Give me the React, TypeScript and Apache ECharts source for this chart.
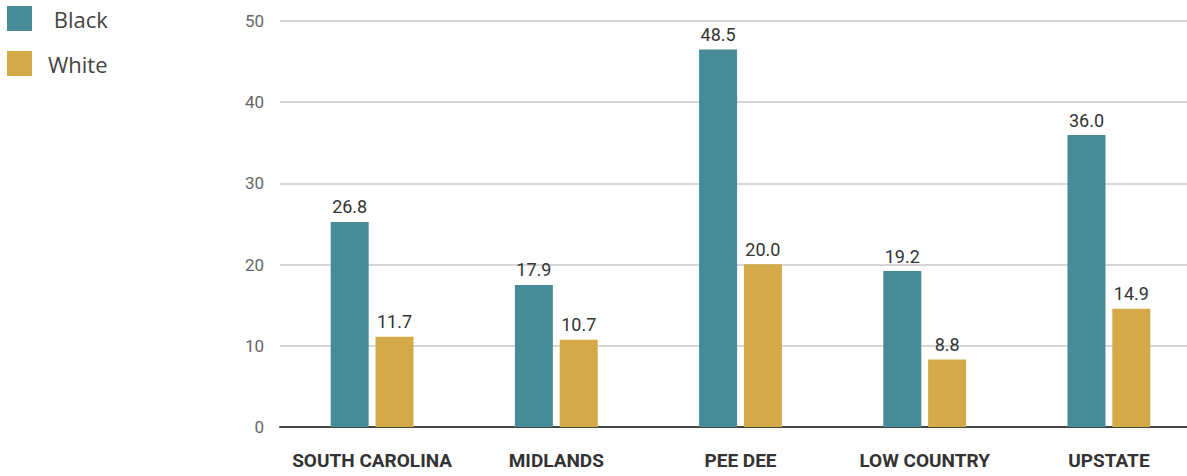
import React, { useEffect, useRef } from "react";
import * as echarts from "echarts";

const categories = ["SOUTH CAROLINA", "MIDLANDS", "PEE DEE", "LOW COUNTRY", "UPSTATE"];
const seriesNames = ["Black", "White"];
// bar heights as drawn in the picture
const blackValues = [25.25, 17.5, 46.5, 19.2, 35.95];
const whiteValues = [11.1, 10.75, 20.05, 8.3, 14.55];
// value labels as printed above each bar
const blackLabels = ["26.8", "17.9", "48.5", "19.2", "36.0"];
const whiteLabels = ["11.7", "10.7", "20.0", "8.8", "14.9"];
const yTicks = [0, 10, 20, 30, 40, 50];

const TEAL = "#478B99";
const GOLD = "#D4AA48";

export default function App() {
  const ref = useRef<HTMLDivElement>(null);
  useEffect(() => {
    document.body.style.margin = "0";
    if (!ref.current) return;
    const chart = echarts.init(ref.current, null, { renderer: "svg" });
    const labelStyle = {
      show: true,
      position: "top",
      distance: 6,
      color: "#333",
      fontFamily: "Roboto",
      fontSize: 18,
    };
    chart.setOption({
      animation: false,
      backgroundColor: "#fff",
      legend: {
        orient: "vertical",
        left: 7,
        top: 6,
        padding: 0,
        itemWidth: 25,
        itemHeight: 25,
        itemGap: 20,
        icon: "rect",
        data: seriesNames,
        formatter: (n: string) => (n === "Black" ? " " + n : n),
        textStyle: {
          color: "#444",
          fontFamily: "Open Sans",
          fontSize: 22,
          lineHeight: 25,
          padding: [0, 0, 0, 11],
        },
      },
      grid: { left: 280, right: 0, top: 21, bottom: 49 },
      xAxis: {
        type: "category",
        data: categories,
        axisTick: { show: false },
        axisLine: { lineStyle: { color: "#444", width: 2 } },
        axisLabel: {
          interval: 0,
          margin: 24,
          color: "#333",
          fontFamily: "Roboto",
          fontWeight: "bold",
          fontSize: 19,
        },
      },
      yAxis: {
        type: "value",
        min: yTicks[0],
        max: yTicks[yTicks.length - 1],
        interval: 10,
        axisLine: { show: false },
        axisTick: { show: false },
        axisLabel: { margin: 16, color: "#666", fontFamily: "Roboto", fontSize: 17 },
        splitLine: { lineStyle: { color: "#c8c8c8", width: 1.5 } },
      },
      series: [
        {
          name: seriesNames[0],
          type: "bar",
          data: blackValues,
          barWidth: 38,
          barGap: "18%",
          itemStyle: { color: TEAL },
          label: { ...labelStyle, formatter: (p: any) => blackLabels[p.dataIndex] },
        },
        {
          name: seriesNames[1],
          type: "bar",
          data: whiteValues,
          barWidth: 38,
          itemStyle: { color: GOLD },
          label: { ...labelStyle, formatter: (p: any) => whiteLabels[p.dataIndex] },
        },
      ],
    });
    return () => chart.dispose();
  }, []);
  return (
    <div style={{ width: 1187, height: 476, overflow: "hidden" }}>
      <div ref={ref} style={{ width: 1201, height: 476 }} />
    </div>
  );
}
